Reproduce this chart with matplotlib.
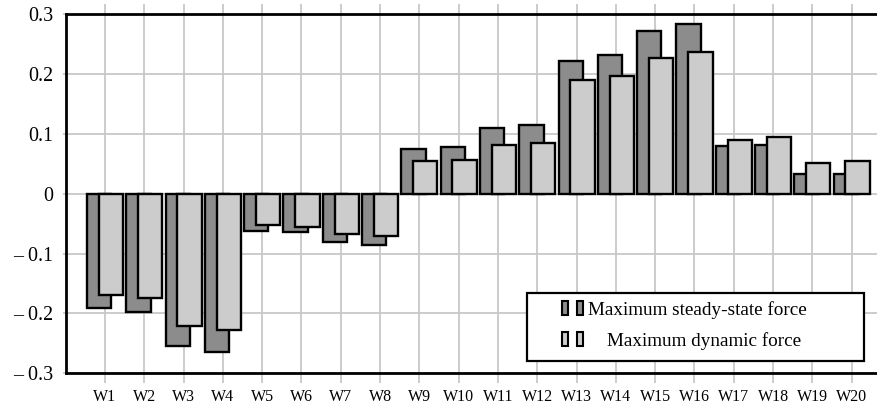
import matplotlib
matplotlib.use("Agg")
import matplotlib.pyplot as plt
import numpy as np
from matplotlib.patches import Rectangle
from matplotlib.legend_handler import HandlerTuple

categories = [f"W{i}" for i in range(1, 21)]
steady = [-0.191, -0.198, -0.255, -0.265, -0.0625, -0.064, -0.081, -0.085,
          0.074, 0.078, 0.109, 0.114, 0.222, 0.231, 0.271, 0.283,
          0.079, 0.082, 0.032, 0.033]
dynamic = [-0.170, -0.174, -0.221, -0.227, -0.052, -0.055, -0.0675, -0.071,
           0.054, 0.056, 0.082, 0.085, 0.189, 0.196, 0.227, 0.237,
           0.090, 0.094, 0.052, 0.0545]
yticks = [0.3, 0.2, 0.1, 0, -0.1, -0.2, -0.3]
ytick_labels = ["0.3", "0.2", "0.1", "0", "\u2013 0.1", "\u2013 0.2", "\u2013 0.3"]
labels = ["Maximum steady-state force", "    Maximum dynamic force"]

dark = "#8c8c8c"
light = "#cccccc"
gridc = "#c8c8c8"

plt.rcParams['font.family'] = ['Liberation Serif', 'DejaVu Serif']

W, H = 878, 408
fig = plt.figure(figsize=(W / 100, H / 100), dpi=100)
ax = fig.add_axes([65.7 / W, 1 - 373.3 / H, (W - 65.7) / W, (373.3 - 14) / H])

x = np.arange(1, len(categories) + 1)
bw = 0.62
ax.bar(x - 0.15, steady, width=bw, color=dark, edgecolor="black", linewidth=1.7, zorder=3)
ax.bar(x + 0.15, dynamic, width=bw, color=light, edgecolor="black", linewidth=1.7, zorder=4)

ax.set_xlim(0, (W - 65.7) / 39.3)
ax.set_ylim(-0.3, 0.3)
ax.set_xticks(x)
ax.set_xticklabels(categories, fontsize=11.5)
ax.set_yticks(yticks)
ax.set_yticklabels(ytick_labels, fontsize=14.4)

ax.grid(True, color=gridc, linewidth=1.3, zorder=0)
ax.set_axisbelow(True)
ax.tick_params(axis="x", which="both", top=True, bottom=True, direction="out",
               length=7.2, width=1.3, color=gridc, pad=4.3)
ax.tick_params(axis="y", which="both", left=True, direction="out",
               length=2.5, width=1.3, color=gridc, pad=6.7)
for side in ["left", "top", "bottom"]:
    ax.spines[side].set_linewidth(2.0)
    ax.spines[side].set_color("black")
ax.spines["right"].set_visible(False)

# legend frame
ax.add_patch(Rectangle((527 / W, 1 - 361 / H), (864 - 527) / W, (361 - 292.7) / H,
                       transform=fig.transFigure, facecolor="white", edgecolor="black",
                       linewidth=1.6, zorder=10, clip_on=False))
h1 = (Rectangle((0, 0), 1, 1, facecolor=dark, edgecolor="black", linewidth=1.5),
      Rectangle((0, 0), 1, 1, facecolor=dark, edgecolor="black", linewidth=1.5))
h2 = (Rectangle((0, 0), 1, 1, facecolor=light, edgecolor="black", linewidth=1.5),
      Rectangle((0, 0), 1, 1, facecolor=light, edgecolor="black", linewidth=1.5))
leg = ax.legend([h1, h2], labels, handler_map={tuple: HandlerTuple(ndivide=None, pad=0.47)},
                loc="upper left", bbox_to_anchor=(562 / W, 1 - 301 / H),
                bbox_transform=fig.transFigure, frameon=False, fontsize=13.75,
                handlelength=1.1, handleheight=0.78, handletextpad=0.26,
                labelspacing=0.68, borderpad=0.0, borderaxespad=0)
leg.set_zorder(11)

fig.savefig("out.png", dpi=100)
